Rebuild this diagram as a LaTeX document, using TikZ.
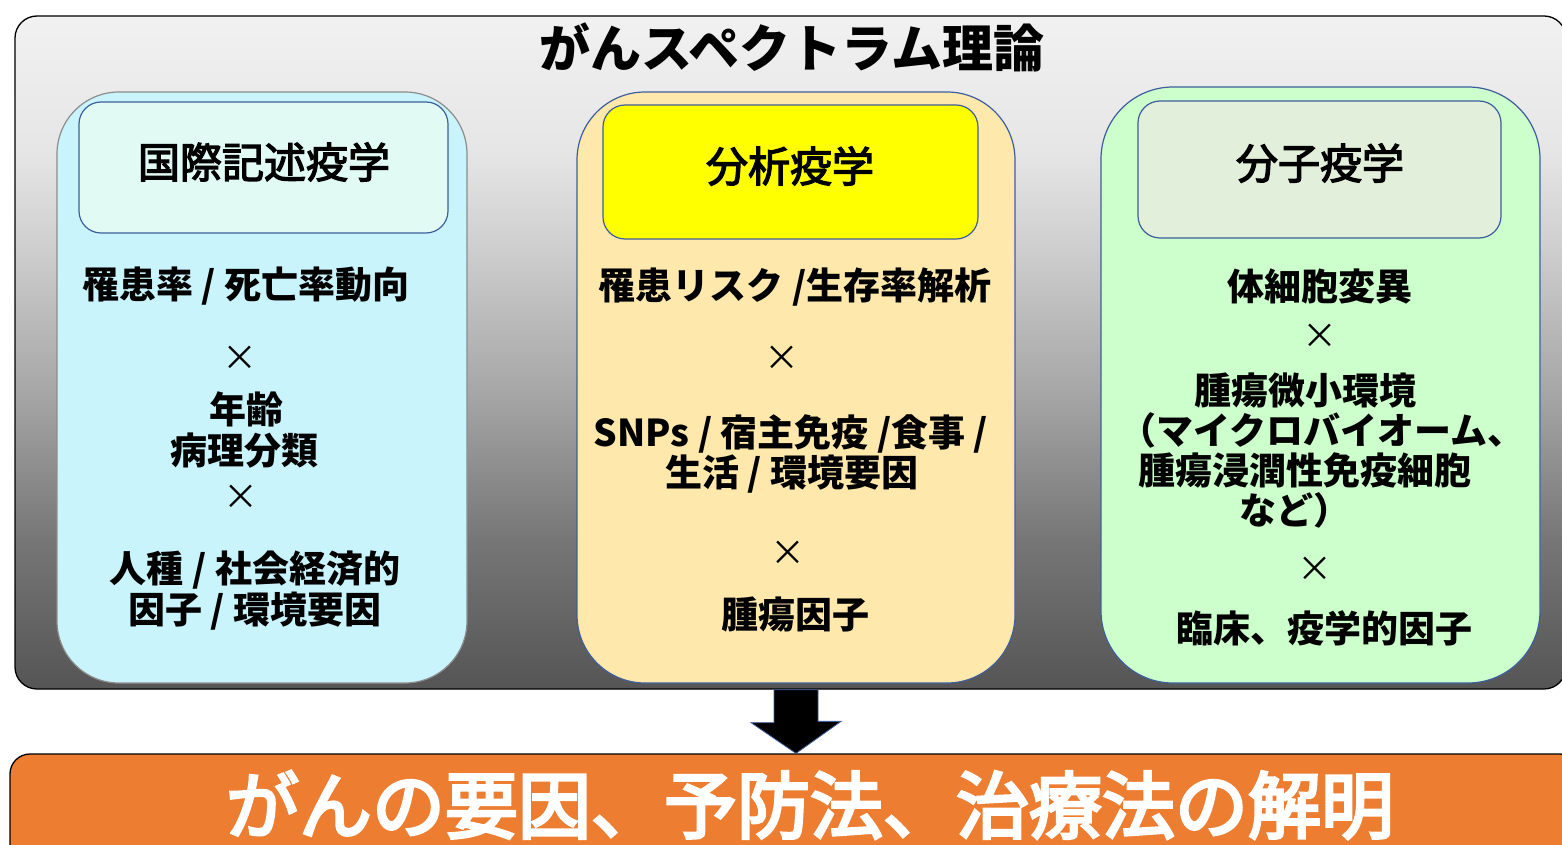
\documentclass[tikz,border=0pt]{standalone}
\usepackage{fontspec}
\usetikzlibrary{calc}
\setmainfont{Noto Sans CJK JP}
\newfontfamily\medfont{Noto Sans CJK JP}[FakeBold=3]
\newfontfamily\barfont{Noto Sans CJK JP}[FakeBold=4]
\definecolor{g0}{HTML}{555555}
\definecolor{g1}{HTML}{767676}
\definecolor{g2}{HTML}{A6A6A6}
\definecolor{g3}{HTML}{CFCFCF}
\definecolor{g4}{HTML}{E6E6E6}
\definecolor{g5}{HTML}{F1F1F1}
\definecolor{lfill}{HTML}{C9F4FC}
\definecolor{lhfill}{HTML}{E1FBF4}
\definecolor{mfill}{HTML}{FEE8AC}
\definecolor{mhfill}{HTML}{FFFF00}
\definecolor{rfill}{HTML}{CCFFCC}
\definecolor{rhfill}{HTML}{E2EFDA}
\definecolor{bblue}{HTML}{3E5E9C}
\definecolor{lgray}{HTML}{8C8C8C}
\definecolor{orange}{HTML}{ED7D31}
\pgfdeclareverticalshading{bggrad}{100bp}{color(0bp)=(g0); color(25bp)=(g0); color(36bp)=(g1); color(47bp)=(g2); color(58bp)=(g3); color(65bp)=(g4); color(75bp)=(g5); color(100bp)=(g5)}
\tikzset{
  frame/.style={draw=black, line width=1.3pt, rounded corners=22pt, shading=bggrad, inner sep=0pt},
  colbox/.style={draw=bblue, line width=1.2pt, rounded corners=68pt, inner sep=0pt},
  hdrbox/.style={draw=bblue, line width=1.2pt, rounded corners=22pt, inner sep=0pt},
  body/.style={inner sep=0pt, text height=32.5pt, text depth=4.5pt, font=\fontsize{37}{42}\selectfont\bfseries},
  times/.style={inner sep=0pt, text height=30.8pt, text depth=4.2pt, font=\fontsize{35}{40}\selectfont},
  hdr/.style={inner sep=0pt, text height=37pt, text depth=5pt, font=\fontsize{42}{48}\medfont},
  ttl/.style={inner sep=0pt, text height=45pt, text depth=6pt, font=\fontsize{51}{56}\selectfont\bfseries},
  big/.style={inner sep=0pt, text height=64.2pt, text depth=8.8pt, text=white, font=\fontsize{73}{80}\barfont},
  bigarrow/.style={fill=black, draw=bblue, line width=0.8pt, line join=miter}
}
\begin{document}
\begin{tikzpicture}[x=1pt, y=-1pt]
\useasboundingbox (0,0) rectangle (1562,845);
\clip (0,0) rectangle (1562,845);
\fill[white] (0,0) rectangle (1562,845);
% outer frame
\node[frame, minimum width=1551pt, minimum height=673pt] (frame) at (790.5,352.5) {};
\node[ttl] (title) at (792,48) {がんスペクトラム理論};
% columns
\node[colbox, draw=lgray, fill=lfill, minimum width=410pt, minimum height=591pt, rounded corners=62pt] (lbox) at (262,387.5) {};
\node[colbox, fill=mfill, minimum width=438pt, minimum height=591pt] (mbox) at (796,387.5) {};
\node[colbox, fill=rfill, minimum width=439pt, minimum height=596pt, rounded corners=72pt] (rbox) at (1320.5,385) {};
% headers
\node[hdrbox, fill=lhfill, minimum width=369pt, minimum height=131pt] (lhdr) at (263.5,167.5) {};
\node[hdrbox, fill=mhfill, minimum width=375pt, minimum height=134pt] (mhdr) at (790.5,172) {};
\node[hdrbox, fill=rhfill, minimum width=363pt, minimum height=137pt] (rhdr) at (1319.5,169.5) {};
\node[hdr] (lhdrt) at (264,162) {国際記述疫学};
\node[hdr] (mhdrt) at (790,166) {分析疫学};
\node[hdr] (rhdrt) at (1320,163) {分子疫学};
% left column text
\node[body] (l1) at (246,284) {罹患率 / 死亡率動向};
\node[times] (lx1) at (240,357) {×};
\node[body] (l2) at (246,409) {年齢};
\node[body] (l3) at (244,450) {病理分類};
\node[times] (lx2) at (241,496) {×};
\node[body] (l4) at (255,568) {人種 / 社会経済的};
\node[body] (l5) at (255,609) {因子 / 環境要因};
% middle column text
\node[body] (m1) at (795,285) {罹患リスク /生存率解析};
\node[times] (mx1) at (782,357) {×};
\node[body] (m2) at (791,432) {SNPs / 宿主免疫 /食事 /};
\node[body] (m3) at (792,472) {生活 / 環境要因};
\node[times] (mx2) at (788,552) {×};
\node[body] (m4) at (795,614) {腫瘍因子};
% right column text
\node[body] (r1) at (1320,286) {体細胞変異};
\node[times] (rx1) at (1320,335) {×};
\node[body] (r2) at (1305,390) {腫瘍微小環境};
\node[body] (r3) at (1322,430) {（マイクロバイオーム、};
\node[body] (r4) at (1305,470) {腫瘍浸潤性免疫細胞};
\node[body] (r5) at (1295,510) {など）};
\node[times] (rx2) at (1315,568) {×};
\node[body] (r6) at (1324,628) {臨床、疫学的因子};
% bottom bar
\node[draw=black, line width=1.3pt, rounded corners=20pt, fill=orange, minimum width=1570pt, minimum height=146pt, inner sep=0pt] (bar) at (795,827) {};
\node[big] (bart) at (810,805) {がんの要因、予防法、治療法の解明};
% arrow from frame to bar
\coordinate (atop) at (frame.south -| 796,0);
\coordinate (atip) at (bar.north -| 796,0);
\draw[bigarrow] ($(atop)+(-22,0)$) -- ++(0,33) -- ++(-23,0) -- (atip) -- ++(45,-32) -- ++(-23,0) -- ($(atop)+(22,0)$) -- cycle;
\end{tikzpicture}
\end{document}
